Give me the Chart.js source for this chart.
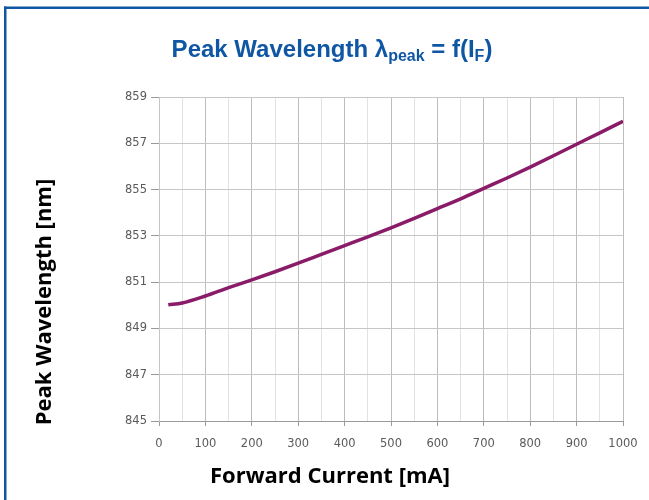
<!DOCTYPE html>
<html>
<head>
<meta charset="utf-8">
<script src="https://cdn.jsdelivr.net/npm/chart.js@4.4.1/dist/chart.umd.min.js"></script>
<style>
  html, body { margin: 0; padding: 0; background: #fff; }
  #wrap { width: 649px; height: 500px; position: relative; }
</style>
</head>
<body>
<div id="wrap"><canvas id="chart" width="649" height="500"></canvas></div>
<script>
// forward current [mA] and peak wavelength [nm]
const currents = [20, 50, 100, 150, 200, 250, 300, 350, 400, 450, 500, 550, 600, 650, 700, 750, 800, 850, 900, 950, 1000];
const wavelengths = [850.02, 850.1, 850.4, 850.76, 851.1, 851.45, 851.82, 852.2, 852.58, 852.96, 853.35, 853.76, 854.18, 854.6, 855.05, 855.5, 855.97, 856.46, 856.96, 857.45, 857.95];

const xMin = 0, xMax = 1000, xStep = 50;
const yMin = 845, yMax = 859, yStep = 2;

const titleParts = [
    { text: 'Peak Wavelength \u03bb', sub: false },
    { text: 'peak', sub: true },
    { text: ' = f(I', sub: false },
    { text: 'F', sub: true },
    { text: ')', sub: false }
];
const xTitle = 'Forward Current [mA]';
const yTitle = 'Peak Wavelength [nm]';

const blue = '#0f56a3';

// frame, title with subscripts and the two axis titles
const decorations = {
    id: 'decorations',
    beforeDraw(chart) {
        const ctx = chart.ctx;
        ctx.save();
        ctx.fillStyle = '#fff';
        ctx.fillRect(0, 0, chart.width, chart.height);
        ctx.fillStyle = blue;
        ctx.fillRect(4, 6.5, chart.width - 4, 2.5);
        ctx.fillRect(4, 6.5, 2.5, chart.height - 6.5);
        ctx.restore();
    },
    afterDraw(chart) {
        const ctx = chart.ctx;
        ctx.save();
        // main title
        const big = 'bold 24px "Liberation Sans", Arial, sans-serif';
        const small = 'bold 16px "Liberation Sans", Arial, sans-serif';
        let total = 0;
        titleParts.forEach(p => {
            ctx.font = p.sub ? small : big;
            total += ctx.measureText(p.text).width;
        });
        let x = 332 - total / 2;
        const base = 57;
        ctx.fillStyle = blue;
        ctx.textBaseline = 'alphabetic';
        ctx.textAlign = 'left';
        titleParts.forEach(p => {
            ctx.font = p.sub ? small : big;
            ctx.fillText(p.text, x, p.sub ? base + 4 : base);
            x += ctx.measureText(p.text).width;
        });

        // axis titles
        ctx.fillStyle = '#000';
        ctx.font = 'bold 22px "Open Sans", sans-serif';
        ctx.textAlign = 'center';
        ctx.textBaseline = 'middle';
        ctx.fillText(xTitle, 330, 477);
        ctx.translate(45, 302);
        ctx.rotate(-Math.PI / 2);
        ctx.fillText(yTitle, 0, 0);
        ctx.restore();
    }
};

const ctx = document.getElementById('chart').getContext('2d');
new Chart(ctx, {
    type: 'line',
    data: {
        datasets: [{
            data: currents.map((c, i) => ({ x: c, y: wavelengths[i] })),
            borderColor: '#8a1b68',
            borderWidth: 3.5,
            pointRadius: 0,
            tension: 0.4,
            cubicInterpolationMode: 'monotone',
            fill: false
        }]
    },
    options: {
        responsive: false,
        animation: false,
        layout: { padding: { left: 0, right: 26, top: 97, bottom: 0 } },
        plugins: {
            legend: { display: false },
            title: { display: false },
            tooltip: { enabled: false }
        },
        scales: {
            x: {
                type: 'linear',
                min: xMin,
                max: xMax,
                afterFit: s => { s.height = 79; },
                ticks: {
                    stepSize: xStep,
                    autoSkip: false,
                    maxRotation: 0,
                    padding: 11,
                    color: '#5a5a5a',
                    font: { family: '"DejaVu Sans", sans-serif', size: 11.5 },
                    callback: v => (v % 100 === 0 ? String(v) : '')
                },
                grid: {
                    color: c => (c.tick && c.tick.value % 100 === 0 ? '#bdbdbd' : '#e2e2e2'),
                    tickColor: c => (c.tick && c.tick.value % 100 === 0 ? '#9a9a9a' : 'rgba(0,0,0,0)'),
                    tickLength: 5
                },
                border: { color: '#9a9a9a' }
            },
            y: {
                type: 'linear',
                min: yMin,
                max: yMax,
                afterFit: s => { s.width = 159; },
                ticks: {
                    stepSize: yStep,
                    padding: 4,
                    color: '#5a5a5a',
                    font: { family: '"DejaVu Sans", sans-serif', size: 11.5 }
                },
                grid: {
                    color: '#c6c6c6',
                    tickColor: '#9a9a9a',
                    tickLength: 8
                },
                border: { color: '#c6c6c6' }
            }
        }
    },
    plugins: [decorations]
});
</script>
</body>
</html>
